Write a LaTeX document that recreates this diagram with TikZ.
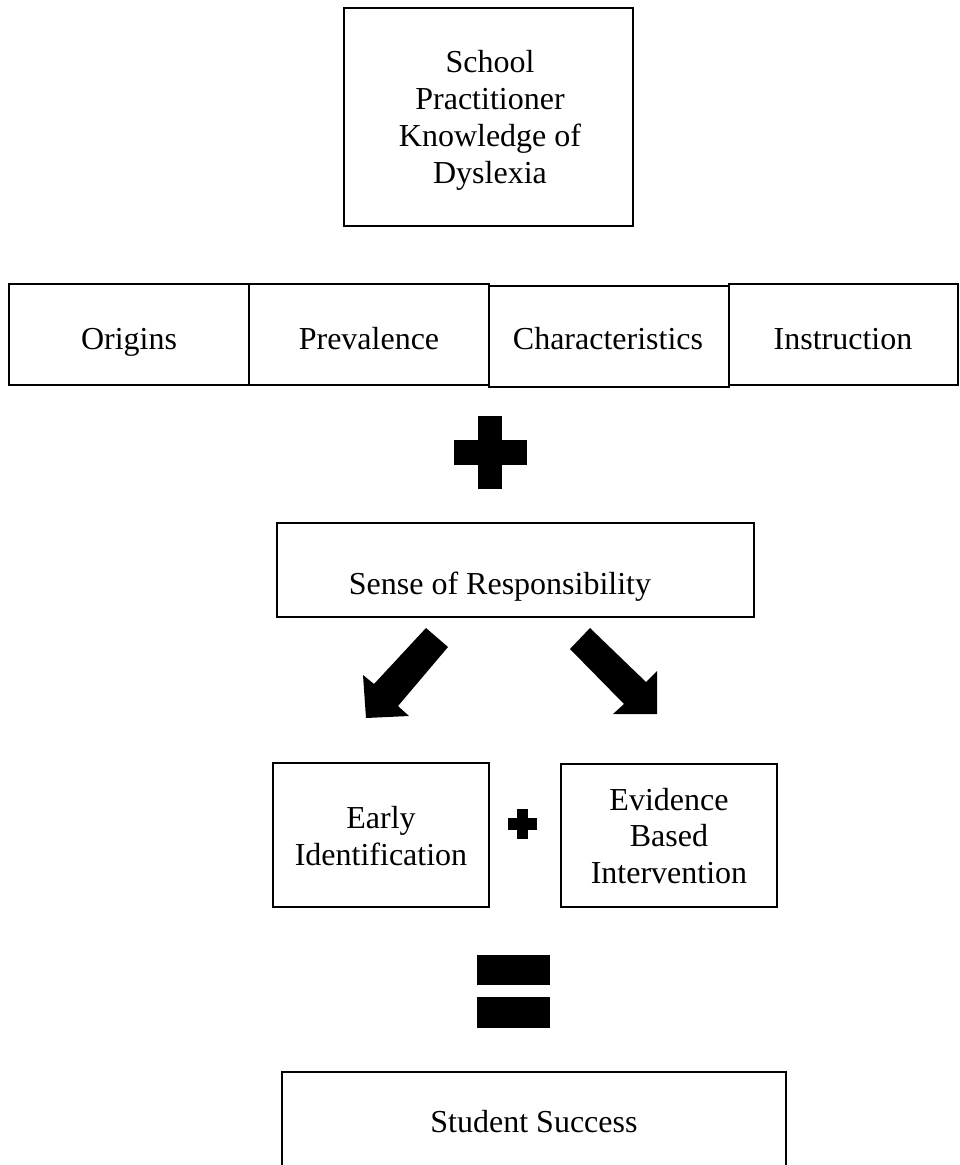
\documentclass[tikz,border=0pt]{standalone}
\usepackage{fontspec}
\setmainfont{Liberation Serif}
\begin{document}
\begin{tikzpicture}[x=1pt,y=-1pt,
  box/.style={draw=black,line width=1.8pt,inner sep=0pt,rectangle},
  lbl/.style={inner sep=0pt,font=\fontsize{32}{36.8}\selectfont,align=center},
  blk/.style={fill=black,draw=none}]
\useasboundingbox (0,0) rectangle (960,1165);
\fill[white] (0,0) rectangle (960,1165);
% top box
\node[box,line width=2.6pt,minimum width=289pt,minimum height=218pt] (top) at (488.5,117) {};
\node[lbl] (topT) at (490,120.5) {School\\Practitioner\\Knowledge of\\Dyslexia};
% row of four boxes
\node[box,minimum width=240pt,minimum height=101pt] (orig) at (129,334.5) {};
\node[box,minimum width=240pt,minimum height=101pt] (prev) at (369,334.5) {};
\node[box,minimum width=240pt,minimum height=101pt] (char) at (609,336.5) {};
\node[box,minimum width=229pt,minimum height=101pt] (instr) at (843.5,334.5) {};
\node[lbl,anchor=base] (origT) at (129,349) {Origins};
\node[lbl,anchor=base] (prevT) at (369,349) {Prevalence};
\node[lbl,anchor=base] (charT) at (608,349) {Characteristics};
\node[lbl,anchor=base] (instrT) at (843,349) {Instruction};
% big plus
\fill[blk] (478,416) rectangle (502,489);
\fill[blk] (454,440) rectangle (527,465);
% sense of responsibility
\node[box,minimum width=477pt,minimum height=94pt] (sense) at (515.5,570) {};
\node[lbl,anchor=base] (senseT) at (500,594) {Sense of Responsibility};
% block arrows
\fill[blk] (426,628) -- (448,647) -- (398,706) -- (409,716) -- (366,718) -- (363,675) -- (374,684) -- cycle;
\fill[blk] (590,628) -- (646,682) -- (657,671) -- (657,714) -- (613,714) -- (624,704) -- (570,649) -- cycle;
% middle boxes
\node[box,line width=1.5pt,minimum width=216pt,minimum height=144pt] (early) at (381,835) {};
\node[lbl] (earlyT) at (381,836.4) {Early\\Identification};
\node[box,line width=1.5pt,minimum width=216pt,minimum height=143pt] (evid) at (669,835.5) {};
\node[lbl] (evidT) at (669,836) {Evidence\\Based\\Intervention};
% small plus
\fill[blk] (517,809) rectangle (528,839);
\fill[blk] (508,818) rectangle (537,830);
% equals
\fill[blk] (477,955) rectangle (550,985);
\fill[blk] (477,997) rectangle (550,1028);
% student success (cut off at bottom)
\coordinate (ssBL) at (282,1166);
\coordinate (ssTL) at (282,1072);
\coordinate (ssTR) at (786,1072);
\coordinate (ssBR) at (786,1166);
\draw[line width=1.5pt] (ssBL) -- (ssTL) -- (ssTR) -- (ssBR);
\node[lbl,anchor=base] (ssT) at (534,1132) {Student Success};
\end{tikzpicture}
\end{document}
